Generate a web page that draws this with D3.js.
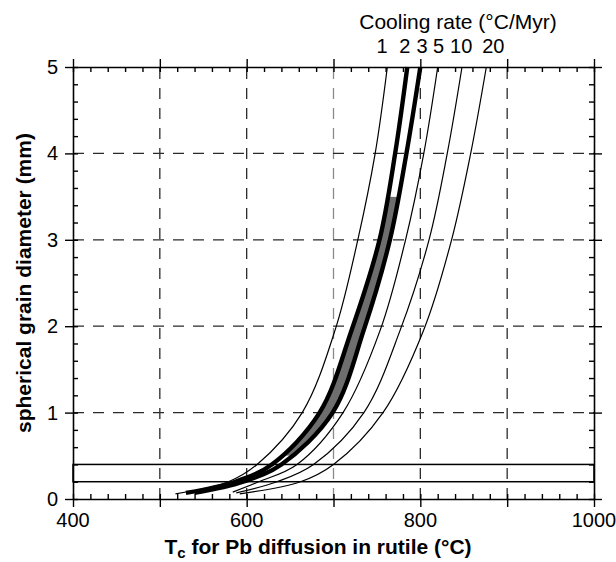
<!DOCTYPE html>
<html>
<head>
<meta charset="utf-8">
<script src="https://cdn.jsdelivr.net/npm/d3@7"></script>
<style>
  html, body { margin: 0; padding: 0; background: #fff; }
  svg { display: block; }
</style>
</head>
<body>
<div id="chart"></div>
<script>
// Closure temperature of Pb in rutile vs spherical grain diameter,
// one curve per cooling rate.

const rates      = ["1", "2", "3", "5", "10", "20"];
const rateLabelT = [756, 782, 802, 821, 847, 884];   // where each rate label sits on top axis (°C)
const thickRates = ["2", "3"];

// grain diameters (mm) and closure temperatures (°C) for each curve
const c1Diam  = [0.06, 0.2, 0.4, 1, 1.96, 3, 4, 5];
const c1Temp  = [518, 579, 612, 664, 702, 728, 748, 762];
const c2Diam  = [0.07, 0.2, 0.4, 1, 1.96, 3, 4, 5];
const c2Temp  = [530, 587, 629, 684, 721, 753, 771, 785];
const c3Diam  = [0.07, 0.2, 0.4, 1, 1.96, 3, 4, 5];
const c3Temp  = [540, 596, 640, 699, 735, 765, 784, 800];
const c5Diam  = [0.08, 0.2, 0.4, 1, 1.96, 3, 4, 5];
const c5Temp  = [584, 614, 658, 711, 754, 783, 804, 820];
const c10Diam = [0.07, 0.2, 0.4, 1, 1.96, 3, 4, 5];
const c10Temp = [588, 635, 677, 735, 777, 810, 831, 848];
const c20Diam = [0.06, 0.2, 0.4, 1, 1.96, 3, 4, 5];
const c20Temp = [592, 662, 700, 757, 804, 836, 858, 876];

// shaded band between the 2 and 3 °C/Myr curves
const bandDiam = [0.5, 3.5];

// box marking the grain size range of interest
const boxTemp = [400, 1000];
const boxDiam = [0.2, 0.4];

const xTicks = [400, 600, 800, 1000];
const xGrid  = [500, 600, 700, 800, 900];
const yTicks = [0, 1, 2, 3, 4, 5];
const yGrid  = [1, 2, 3, 4];

const FONT = "'Liberation Sans', Arial, Helvetica, sans-serif";

const W = 616, H = 562;
const m = { top: 67, right: 22, bottom: 63, left: 73 };

const curves = [
  { rate: "1",  d: c1Diam,  t: c1Temp },
  { rate: "2",  d: c2Diam,  t: c2Temp },
  { rate: "3",  d: c3Diam,  t: c3Temp },
  { rate: "5",  d: c5Diam,  t: c5Temp },
  { rate: "10", d: c10Diam, t: c10Temp },
  { rate: "20", d: c20Diam, t: c20Temp },
].map(c => ({ rate: c.rate, pts: c.d.map((d, i) => ({ d, t: c.t[i] })) }));

const x = d3.scaleLinear().domain([400, 1000]).range([m.left, W - m.right]);
const y = d3.scaleLinear().domain([0, 5]).range([H - m.bottom, m.top]);

const svg = d3.select("#chart").append("svg")
  .attr("width", W).attr("height", H)
  .attr("viewBox", `0 0 ${W} ${H}`);

const x0 = x.range()[0], x1 = x.range()[1];
const y0 = y.range()[0], y1 = y.range()[1];

// dashed grid
const grid = svg.append("g")
  .attr("stroke", "#2a2a2a")
  .attr("stroke-width", 1.3)
  .attr("stroke-dasharray", "11,9");
xGrid.forEach(v => {
  grid.append("line")
    .attr("x1", x(v)).attr("x2", x(v))
    .attr("y1", y0).attr("y2", y1)
    .attr("stroke", v === 700 ? "#8a8a8a" : null);
});
yGrid.forEach(v => {
  grid.append("line")
    .attr("x1", x0).attr("x2", x1)
    .attr("y1", y(v)).attr("y2", y(v));
});

// curves drawn as smooth splines through the read points
const line = d3.line()
  .x(p => x(p.t))
  .y(p => y(p.d))
  .curve(d3.curveCatmullRom.alpha(0.5));

// shaded band between the thick curves: sample both splines along y
function sampleCurve(pts) {
  const tmp = svg.append("path").attr("d", line(pts)).attr("fill", "none");
  const node = tmp.node(), len = node.getTotalLength();
  const out = d3.range(0, len + 0.5, 0.5).map(l => node.getPointAtLength(Math.min(l, len)));
  tmp.remove();
  return out;
}
const cA = curves.find(c => c.rate === thickRates[0]);
const cB = curves.find(c => c.rate === thickRates[1]);
const yLo = y(bandDiam[0]), yHi = y(bandDiam[1]);
const sideA = sampleCurve(cA.pts).filter(p => p.y <= yLo && p.y >= yHi);
const sideB = sampleCurve(cB.pts).filter(p => p.y <= yLo && p.y >= yHi);
svg.append("path")
  .attr("d", "M" + sideA.map(p => `${p.x},${p.y}`).join("L") +
             "L" + sideB.slice().reverse().map(p => `${p.x},${p.y}`).join("L") + "Z")
  .attr("fill", "#6e6e6e");

svg.append("g").selectAll("path")
  .data(curves)
  .join("path")
    .attr("d", c => line(c.pts))
    .attr("fill", "none")
    .attr("stroke", "#000")
    .attr("stroke-linejoin", "round")
    .attr("stroke-width", c => thickRates.includes(c.rate) ? 4.4 : 1.2);

// box
svg.append("rect")
  .attr("x", x(boxTemp[0]))
  .attr("y", y(boxDiam[1]))
  .attr("width", x(boxTemp[1]) - x(boxTemp[0]))
  .attr("height", y(boxDiam[0]) - y(boxDiam[1]))
  .attr("fill", "none")
  .attr("stroke", "#000")
  .attr("stroke-width", 1.5);

// frame axes: major ticks point out, minor ticks point in
function frameAxis(axisFn, scale, majors, minors, outer, inner, transform) {
  const g = svg.append("g").attr("transform", transform);
  g.call(axisFn(scale).tickValues(minors).tickSize(-inner).tickFormat(""));
  g.call(s => s.select(".domain").remove());
  const g2 = svg.append("g").attr("transform", transform);
  g2.call(axisFn(scale).tickValues(majors).tickSize(outer).tickSizeOuter(0).tickFormat(""));
  [g, g2].forEach(s => {
    s.selectAll("line").attr("stroke", "#000").attr("stroke-width", 1.4);
    s.selectAll(".domain").attr("stroke", "#000").attr("stroke-width", 1.6);
  });
  return g2;
}

const xMinor = d3.range(400, 1001, 20);
const yMinor = d3.range(0, 5.001, 0.2).map(v => +v.toFixed(1));

frameAxis(d3.axisBottom, x, d3.range(400, 1001, 100), xMinor, 8, 5, `translate(0,${y0})`);
frameAxis(d3.axisTop,    x, d3.range(400, 1001, 100), xMinor, 8, 5, `translate(0,${y1})`);
frameAxis(d3.axisLeft,   y, yTicks, yMinor, 8, 5, `translate(${x0},0)`);
frameAxis(d3.axisRight,  y, yTicks, yMinor, 8, 5, `translate(${x1},0)`);

// tick labels
svg.append("g").selectAll("text")
  .data(xTicks)
  .join("text")
    .attr("x", d => x(d))
    .attr("y", y0 + 28)
    .attr("text-anchor", "middle")
    .attr("font-family", FONT)
    .attr("font-size", "20px")
    .text(d => d);

svg.append("g").selectAll("text")
  .data(yTicks)
  .join("text")
    .attr("x", x0 - 15)
    .attr("y", d => y(d) + 7)
    .attr("text-anchor", "end")
    .attr("font-family", FONT)
    .attr("font-size", "20px")
    .text(d => d);

// cooling rate labels on top
svg.append("text")
  .attr("x", 458)
  .attr("y", 29)
  .attr("text-anchor", "middle")
  .attr("font-family", FONT)
  .attr("font-size", "21px")
  .text("Cooling rate (°C/Myr)");

svg.append("g").selectAll("text")
  .data(rates)
  .join("text")
    .attr("x", (d, i) => x(rateLabelT[i]))
    .attr("y", 53)
    .attr("text-anchor", "middle")
    .attr("font-family", FONT)
    .attr("font-size", "20px")
    .text(d => d);

// axis titles
const xt = svg.append("text")
  .attr("x", 318)
  .attr("y", 554)
  .attr("text-anchor", "middle")
  .attr("font-family", FONT)
  .attr("font-size", "21px")
  .attr("font-weight", "bold");
xt.append("tspan").text("T");
xt.append("tspan").attr("font-size", "15px").attr("dy", 4).text("c");
xt.append("tspan").attr("dy", -4).text(" for Pb diffusion in rutile (°C)");

svg.append("text")
  .attr("transform", `translate(31,${(y0 + y1) / 2}) rotate(-90)`)
  .attr("text-anchor", "middle")
  .attr("font-family", FONT)
  .attr("font-size", "21px")
  .attr("font-weight", "bold")
  .text("spherical grain diameter (mm)");
</script>
</body>
</html>
